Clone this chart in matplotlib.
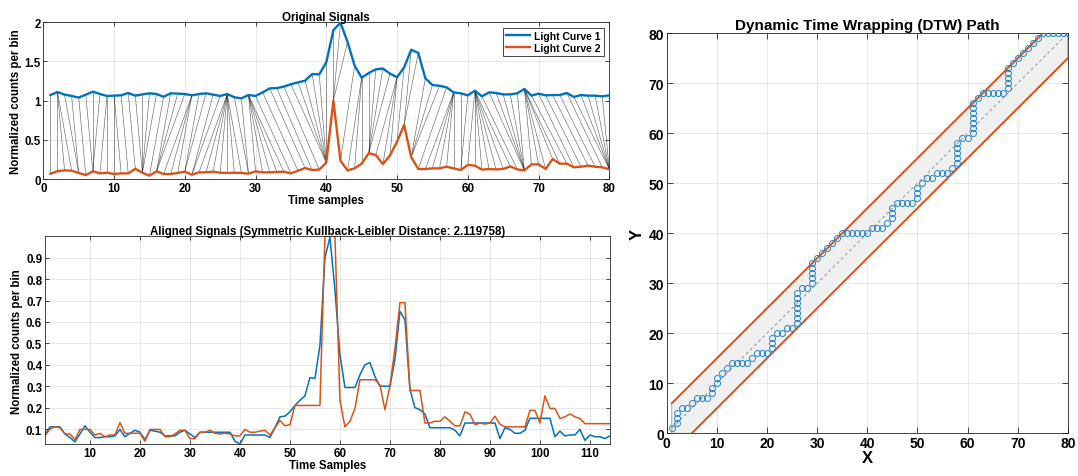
import numpy as np
import matplotlib.pyplot as plt

plt.rcParams['font.family'] = ['Liberation Sans', 'DejaVu Sans']
plt.rcParams['font.weight'] = 'bold'
plt.rcParams['axes.labelweight'] = 'bold'
plt.rcParams['axes.titleweight'] = 'bold'

# light curves, normalized counts per bin (samples 1..80)
lc1 = [0.072, 0.110, 0.077, 0.060, 0.040, 0.077, 0.115, 0.085, 0.060, 0.064,
       0.068, 0.098, 0.064, 0.080, 0.094, 0.085, 0.050, 0.094, 0.090, 0.085,
       0.068, 0.085, 0.094, 0.077, 0.060, 0.085, 0.043, 0.030, 0.072, 0.060,
       0.106, 0.157, 0.160, 0.180, 0.210, 0.234, 0.255, 0.340, 0.336, 0.490,
       0.900, 0.995, 0.750, 0.447, 0.294, 0.353, 0.400, 0.410, 0.345, 0.300,
       0.425, 0.650, 0.610, 0.285, 0.200, 0.190, 0.170, 0.106, 0.094, 0.068,
       0.128, 0.055, 0.106, 0.098, 0.080, 0.080, 0.094, 0.150, 0.064, 0.090,
       0.068, 0.072, 0.072, 0.098, 0.047, 0.072, 0.064, 0.064, 0.055, 0.068]
lc2 = [0.068, 0.100, 0.110, 0.106, 0.077, 0.050, 0.098, 0.072, 0.080, 0.064,
       0.072, 0.072, 0.130, 0.080, 0.043, 0.098, 0.064, 0.064, 0.077, 0.094,
       0.055, 0.085, 0.085, 0.094, 0.080, 0.077, 0.080, 0.077, 0.068, 0.098,
       0.085, 0.085, 0.090, 0.094, 0.072, 0.106, 0.140, 0.115, 0.120, 0.210,
       1.000, 0.234, 0.110, 0.136, 0.196, 0.330, 0.306, 0.190, 0.300, 0.477,
       0.690, 0.280, 0.128, 0.128, 0.136, 0.136, 0.157, 0.136, 0.115, 0.180,
       0.170, 0.120, 0.128, 0.123, 0.128, 0.160, 0.123, 0.110, 0.187, 0.187,
       0.128, 0.255, 0.196, 0.196, 0.149, 0.157, 0.170, 0.157, 0.149, 0.125]

# DTW warping path (1-based indices into lc1 / lc2)
path_x = [1, 2, 2, 2, 3, 4, 5, 6, 7, 8, 9, 9, 10, 10, 11, 12, 13, 14, 15, 16,
          17, 18, 19, 20, 21, 21, 21, 22, 23, 24, 25, 26, 26, 26, 26, 26, 26, 26,
          27, 28, 29, 29, 29, 29, 29, 30, 31, 32, 33, 34, 35, 36, 37, 38, 39, 40,
          41, 42, 43, 44, 45, 45, 45, 46, 47, 48, 49, 50, 50, 50, 51, 52, 53,
          54, 55, 56, 57, 58, 58, 58, 58, 58, 59, 60, 61, 61, 61, 61, 61, 61, 61,
          62, 63, 64, 65, 66, 67, 68, 68, 68, 68, 68, 69, 70, 71, 72, 73, 74,
          75, 76, 77, 78, 79, 80]
path_y = [1, 2, 3, 4, 5, 5, 6, 7, 7, 7, 8, 9, 10, 11, 12, 13, 14, 14, 14, 14,
          15, 16, 16, 16, 17, 18, 19, 20, 20, 21, 21, 22, 23, 24, 25, 26, 27, 28,
          29, 29, 30, 31, 32, 33, 34, 35, 36, 37, 38, 39, 40, 40, 40, 40, 40, 40,
          41, 41, 41, 42, 43, 44, 45, 46, 46, 46, 46, 47, 48, 49, 50, 51, 51,
          52, 52, 52, 53, 54, 55, 56, 57, 58, 59, 59, 60, 61, 62, 63, 64, 65, 66,
          67, 68, 68, 68, 68, 68, 69, 70, 71, 72, 73, 74, 75, 76, 77, 78, 79,
          80, 80, 80, 80, 80, 80]
band = 5
kl_dist = 2.119758

blue = '#0072BD'
orange = '#D95319'
ax_col = '#262626'

s1 = np.array(lc1)
s2 = np.array(lc2)
px = np.array(path_x)
py = np.array(path_y)
n = len(s1)
t = np.arange(1, n + 1)


def style(ax, fs):
    for sp in ax.spines.values():
        sp.set_color(ax_col)
        sp.set_linewidth(0.6)
    ax.tick_params(direction='in', top=True, right=True, length=3,
                   width=0.6, colors=ax_col, labelsize=fs, pad=2,
                   labelcolor='black')
    ax.grid(True, color=ax_col, alpha=0.12, linewidth=0.6)
    ax.set_axisbelow(True)


fig = plt.figure(figsize=(10.78, 4.77), dpi=100)

# original signals
ax1 = fig.add_axes([0.0402, 0.6226, 0.525, 0.3285])
style(ax1, 8.3)
for i, j in zip(px, py):
    ax1.plot([i, j], [s1[i - 1] + 1, s2[j - 1]], color='k', lw=0.45, alpha=0.6, zorder=2)
ax1.plot(t, s1 + 1, color=blue, lw=1.7, label='Light Curve 1', zorder=3)
ax1.plot(t, s2, color=orange, lw=1.7, label='Light Curve 2', zorder=3)
ax1.set_xlim(0, 80)
ax1.set_ylim(0, 2)
ax1.set_xticks(np.arange(0, 81, 10))
ax1.set_yticks([0, 0.5, 1, 1.5, 2])
ax1.set_yticklabels(['0', '0.5', '1', '1.5', '2'])
ax1.set_title('Original Signals', fontsize=8.3, pad=2)
ax1.set_xlabel('Time samples', fontsize=8.3, labelpad=0)
ax1.set_ylabel('Normalized counts per bin', fontsize=8.3, labelpad=2)
leg = ax1.legend(loc='upper right', fontsize=7.5, handlelength=2.3, borderpad=0.3,
                 labelspacing=0.2, handletextpad=0.4, fancybox=False,
                 framealpha=1, edgecolor=ax_col)
leg.get_frame().set_linewidth(0.6)

# aligned signals
a1 = s1[px - 1]
a2 = s2[py - 1]
k = np.arange(1, len(px) + 1)
ax2 = fig.add_axes([0.0417, 0.0671, 0.5241, 0.4354])
style(ax2, 8.3)
ax2.plot(k, a1, color=blue, lw=1.1)
ax2.plot(k, a2, color=orange, lw=1.1)
ax2.set_xlim(1, len(k))
ax2.set_ylim(min(a1.min(), a2.min()), max(a1.max(), a2.max()))
ax2.set_xticks(np.arange(10, len(k) + 1, 10))
ax2.set_yticks(np.arange(0.1, 0.95, 0.1))
ax2.set_yticklabels(['%.1f' % v for v in np.arange(0.1, 0.95, 0.1)])
ax2.set_title('Aligned Signals (Symmetric Kullback-Leibler Distance: %.6f)' % kl_dist,
              fontsize=8.3, pad=2)
ax2.set_xlabel('Time Samples', fontsize=8.3, labelpad=0)
ax2.set_ylabel('Normalized counts per bin', fontsize=8.3, labelpad=2)

# DTW path with band
ax3 = fig.add_axes([0.6185, 0.0895, 0.372, 0.8386])
style(ax3, 10)
ax3.tick_params(length=4)
poly_x = [1, 1, n - band, n, n, band]
poly_y = [0, 1 + band, n, n, n - band, 0]
ax3.fill(poly_x, poly_y, facecolor='#f0f0f0', edgecolor='#a0a0a0', lw=0.6, zorder=1)
ax3.plot([1, n], [1, n], ls='--', color='#909090', lw=0.7, dashes=(3, 3), zorder=2)
ax3.plot([1, n - band], [1 + band, n], color=orange, lw=1.4, zorder=3)
ax3.plot([band, n], [0, n - band], color=orange, lw=1.4, zorder=3)
ax3.plot(px, py, 'o', mfc='none', mec='#2585C8', ms=4.3, mew=0.7, zorder=4)
ax3.set_xlim(0, 80)
ax3.set_ylim(0, 80)
ax3.set_xticks(np.arange(0, 81, 10))
ax3.set_yticks(np.arange(0, 81, 10))
ax3.set_title('Dynamic Time Wrapping (DTW) Path', fontsize=11, pad=3)
ax3.set_xlabel('X', fontsize=12, labelpad=0)
ax3.set_ylabel('Y', fontsize=12, labelpad=3)

fig.savefig('out.png', dpi=100)
